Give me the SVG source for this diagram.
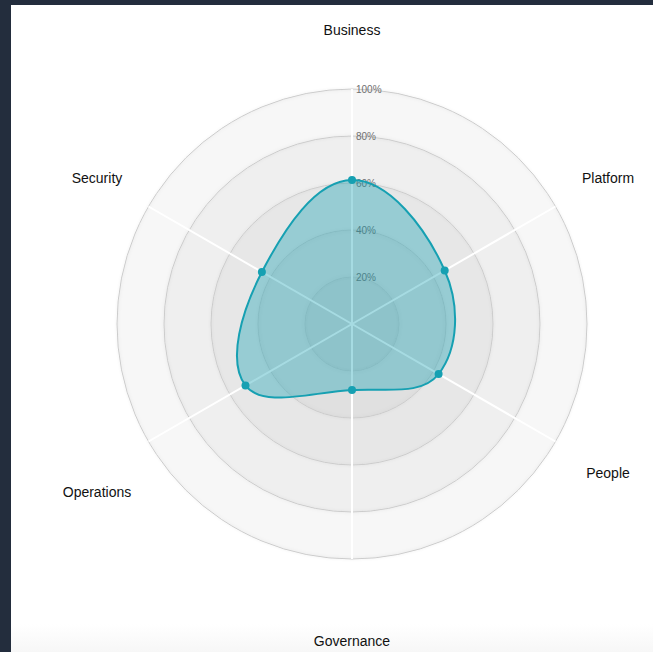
<svg xmlns="http://www.w3.org/2000/svg" width="653" height="652" viewBox="0 0 653 652">
  <defs>
    <linearGradient id="bottomFade" x1="0" y1="0" x2="0" y2="1">
      <stop offset="0" stop-color="#ffffff"/>
      <stop offset="1" stop-color="#f7f7f7"/>
    </linearGradient>
    <filter id="soft" x="-10%" y="-10%" width="120%" height="120%">
      <feGaussianBlur in="SourceAlpha" stdDeviation="1.5"/>
      <feComponentTransfer><feFuncA type="linear" slope="0.1"/></feComponentTransfer>
      <feMerge><feMergeNode/><feMergeNode in="SourceGraphic"/></feMerge>
    </filter>
  </defs>
  <style>
    .ring { fill: #000000; fill-opacity: 0.03; stroke: #cccccc; stroke-width: 1; }
    .spoke { stroke: #ffffff; stroke-width: 2; }
    .tick { font-family: "Liberation Sans", Arial, sans-serif; font-size: 10px; fill: #707070; dominant-baseline: middle; }
    .label { font-family: "Liberation Sans", Arial, sans-serif; font-size: 14px; fill: #111111; text-anchor: middle; }
    .area { fill: #16a0b2; fill-opacity: 0.38; stroke: #16a0b2; stroke-width: 2; }
    .pt { fill: #16a0b2; }
  </style>

  <rect x="0" y="0" width="653" height="652" fill="#ffffff"/>
  <rect x="11" y="624" width="642" height="28" fill="url(#bottomFade)"/>
  <rect x="0" y="0" width="653" height="5" fill="#232d3d"/>
  <rect x="0" y="0" width="11" height="652" fill="#232d3d"/>

  <g id="grid" filter="url(#soft)">
    <circle class="ring" cx="352" cy="324" r="235"/>
    <circle class="ring" cx="352" cy="324" r="188"/>
    <circle class="ring" cx="352" cy="324" r="141"/>
    <circle class="ring" cx="352" cy="324" r="94"/>
    <circle class="ring" cx="352" cy="324" r="47"/>
  </g>

  <g id="spokes">
    <line class="spoke" x1="352" y1="324" x2="352" y2="89"/>
    <line class="spoke" x1="352" y1="324" x2="555.5" y2="206.5"/>
    <line class="spoke" x1="352" y1="324" x2="555.5" y2="441.5"/>
    <line class="spoke" x1="352" y1="324" x2="352" y2="559"/>
    <line class="spoke" x1="352" y1="324" x2="148.5" y2="441.5"/>
    <line class="spoke" x1="352" y1="324" x2="148.5" y2="206.5"/>
  </g>

  <g id="ticks">
    <text class="tick" x="356" y="90">100%</text>
    <text class="tick" x="356" y="137">80%</text>
    <text class="tick" x="356" y="184">60%</text>
    <text class="tick" x="356" y="231">40%</text>
    <text class="tick" x="356" y="278">20%</text>
  </g>

  <g id="data">
    <path class="area" d="M352,180 C388.67,179.7 425.46,227.39 444.7,270.5 C460.1,304.99 458.65,348.15 438.6,374 C421.57,395.95 386.95,387.92 352,390 C309.71,392.52 262.86,408.24 245.5,385.5 C226.82,361.04 241.84,310.72 261.9,272 C284.44,228.52 315.55,180.3 352,180 Z"/>
    <circle class="pt" cx="352" cy="180" r="4"/>
    <circle class="pt" cx="444.7" cy="270.5" r="4"/>
    <circle class="pt" cx="438.6" cy="374" r="4"/>
    <circle class="pt" cx="352" cy="390" r="4"/>
    <circle class="pt" cx="245.5" cy="385.5" r="4"/>
    <circle class="pt" cx="261.9" cy="272" r="4"/>
  </g>

  <g id="node-business"><text class="label" x="352" y="35">Business</text></g>
  <g id="node-platform"><text class="label" x="608" y="183">Platform</text></g>
  <g id="node-people"><text class="label" x="608" y="478">People</text></g>
  <g id="node-governance"><text class="label" x="352" y="646">Governance</text></g>
  <g id="node-operations"><text class="label" x="97" y="497">Operations</text></g>
  <g id="node-security"><text class="label" x="97" y="183">Security</text></g>
</svg>
